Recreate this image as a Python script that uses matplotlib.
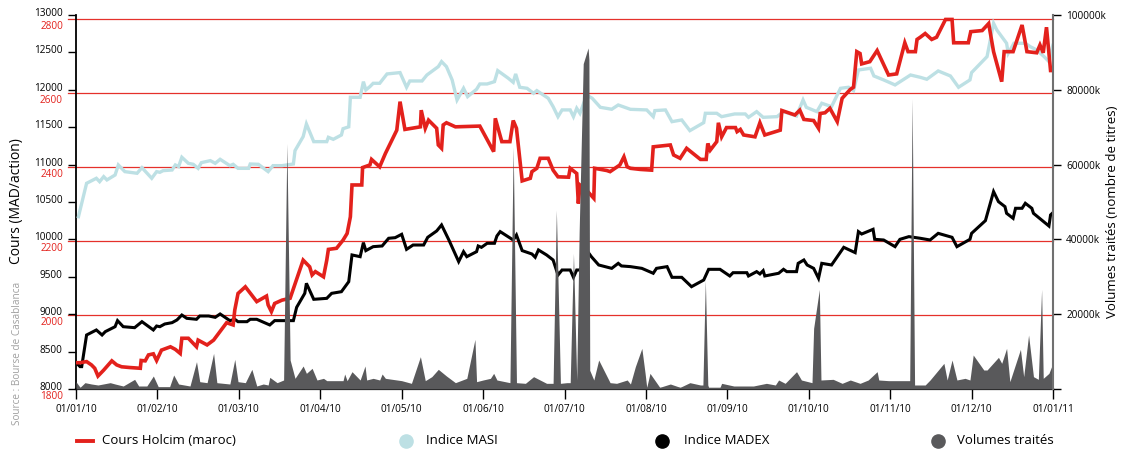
import matplotlib
matplotlib.use("Agg")
import matplotlib.pyplot as plt
import matplotlib.transforms as mtransforms
from matplotlib.lines import Line2D
from matplotlib import font_manager

installed = {f.name for f in font_manager.fontManager.ttflist}
FONT = "Open Sans" if "Open Sans" in installed else "DejaVu Sans"
plt.rcParams["font.family"] = [FONT, "DejaVu Sans"]

# x positions are in months since 01/01/10 (the months are drawn evenly spaced)
month_labels = ["01/01/10", "01/02/10", "01/03/10", "01/04/10", "01/05/10", "01/06/10",
                "01/07/10", "01/08/10", "01/09/10", "01/10/10", "01/11/10", "01/12/10",
                "01/01/11"]

index_ticks = [8000, 8500, 9000, 9500, 10000, 10500, 11000, 11500, 12000, 12500, 13000]
price_ticks = [1800, 2000, 2200, 2400, 2600, 2800]
volume_ticks = [0, 20000, 40000, 60000, 80000, 100000]

masi_m = [0.03, 0.13, 0.25, 0.29, 0.34, 0.38, 0.48, 0.52, 0.60, 0.75, 0.81, 0.93, 0.99, 1.03,
          1.07, 1.18, 1.22, 1.26, 1.30, 1.38, 1.44, 1.50, 1.54, 1.65, 1.71, 1.77, 1.89, 1.93,
          1.99, 2.12, 2.14, 2.24, 2.36, 2.42, 2.53, 2.67, 2.69, 2.79, 2.83, 2.92, 3.08, 3.10,
          3.16, 3.26, 3.28, 3.35, 3.37, 3.49, 3.53, 3.56, 3.61, 3.65, 3.73, 3.82, 3.98, 4.06,
          4.10, 4.25, 4.31, 4.45, 4.49, 4.55, 4.62, 4.68, 4.76, 4.81, 4.92, 4.96, 5.05, 5.14,
          5.18, 5.31, 5.37, 5.40, 5.45, 5.54, 5.62, 5.66, 5.80, 5.86, 5.92, 5.97, 6.07, 6.11,
          6.15, 6.19, 6.25, 6.27, 6.34, 6.44, 6.58, 6.66, 6.81, 7.01, 7.09, 7.11, 7.24, 7.32,
          7.44, 7.54, 7.71, 7.73, 7.87, 7.93, 8.03, 8.09, 8.22, 8.26, 8.36, 8.44, 8.61, 8.69,
          8.85, 8.93, 8.97, 9.10, 9.16, 9.28, 9.39, 9.49, 9.55, 9.61, 9.76, 9.80, 9.92, 10.06,
          10.25, 10.37, 10.45, 10.59, 10.74, 10.84, 10.98, 11.00, 11.19, 11.27, 11.31, 11.43,
          11.45, 11.52, 11.66, 11.72, 11.80, 11.89, 11.95, 11.99, 12.0]
masi_v = [10304, 10750, 10817, 10772, 10839, 10795, 10861, 10995, 10906, 10884, 10959, 10817,
          10906, 10897, 10919, 10928, 10995, 10973, 11098, 11017, 11004, 10950, 11026, 11053,
          11017, 11071, 10986, 11004, 10950, 10950, 11008, 11004, 10906, 10986, 10986, 11008,
          11187, 11374, 11543, 11307, 11307, 11365, 11338, 11396, 11480, 11505, 11900, 11900,
          12109, 11998, 12043, 12087, 12087, 12212, 12230, 12034, 12118, 12118, 12198, 12310,
          12377, 12310, 12132, 11864, 12020, 11909, 12007, 12078, 12078, 12109, 12256, 12154,
          12100, 12212, 12034, 12020, 11953, 11989, 11887, 11775, 11641, 11731, 11731, 11641,
          11753, 11686, 11864, 11931, 11887, 11766, 11740, 11797, 11739, 11731, 11641, 11722,
          11731, 11574, 11597, 11454, 11561, 11686, 11686, 11641, 11664, 11677, 11677, 11632,
          11708, 11632, 11641, 11708, 11650, 11864, 11766, 11708, 11820, 11775, 12020, 12034,
          11989, 12265, 12288, 12185, 12132, 12065, 12198, 12167, 12141, 12252, 12185, 12034,
          12132, 12230, 12444, 12889, 12800, 12622, 12488, 12622, 12622, 12577, 12533, 12444,
          12377, 12555, 12530]

madex_m = [0.01, 0.05, 0.07, 0.13, 0.25, 0.32, 0.36, 0.48, 0.51, 0.58, 0.72, 0.81, 0.95, 0.99,
           1.03, 1.09, 1.18, 1.24, 1.30, 1.36, 1.48, 1.52, 1.63, 1.71, 1.77, 1.89, 1.95, 1.99,
           2.10, 2.14, 2.22, 2.38, 2.44, 2.53, 2.67, 2.71, 2.81, 2.83, 2.92, 3.08, 3.14, 3.26,
           3.35, 3.39, 3.49, 3.53, 3.56, 3.65, 3.76, 3.84, 3.92, 4.00, 4.06, 4.14, 4.27, 4.32,
           4.43, 4.49, 4.58, 4.70, 4.76, 4.80, 4.92, 4.94, 4.98, 5.05, 5.14, 5.17, 5.21, 5.37,
           5.41, 5.48, 5.60, 5.64, 5.68, 5.78, 5.86, 5.92, 5.97, 6.07, 6.11, 6.15, 6.19, 6.30,
           6.33, 6.42, 6.58, 6.66, 6.70, 6.81, 6.95, 7.09, 7.13, 7.26, 7.32, 7.44, 7.56, 7.71,
           7.77, 7.91, 8.03, 8.07, 8.24, 8.26, 8.36, 8.40, 8.44, 8.46, 8.63, 8.69, 8.73, 8.85,
           8.87, 8.94, 8.98, 9.06, 9.12, 9.16, 9.28, 9.43, 9.57, 9.61, 9.65, 9.79, 9.81, 9.92,
           10.06, 10.12, 10.23, 10.37, 10.49, 10.59, 10.76, 10.82, 10.98, 11.00, 11.17, 11.27,
           11.33, 11.41, 11.43, 11.51, 11.54, 11.62, 11.66, 11.74, 11.76, 11.86, 11.95, 11.97,
           12.0]
madex_v = [8343, 8299, 8299, 8722, 8789, 8722, 8767, 8833, 8914, 8833, 8820, 8900, 8789, 8842,
           8833, 8869, 8887, 8923, 8989, 8945, 8932, 8976, 8976, 8958, 9003, 8914, 8932, 8900,
           8900, 8932, 8932, 8856, 8914, 8914, 8914, 9092, 9279, 9413, 9199, 9212, 9279, 9301,
           9435, 9792, 9769, 9957, 9850, 9903, 9912, 10015, 10023, 10068, 9867, 9925, 9925,
           10028, 10113, 10193, 9992, 9703, 9836, 9769, 9836, 9912, 9894, 9948, 9948, 10046,
           10104, 9992, 10059, 9850, 9805, 9761, 9859, 9792, 9725, 9524, 9591, 9591, 9493,
           9591, 9591, 9814, 9769, 9658, 9613, 9680, 9645, 9636, 9613, 9547, 9613, 9636, 9493,
           9493, 9368, 9457, 9600, 9600, 9511, 9555, 9555, 9511, 9569, 9538, 9582, 9511, 9547,
           9600, 9569, 9569, 9680, 9725, 9658, 9613, 9480, 9680, 9658, 9894, 9823, 10104,
           10072, 10135, 10001, 9992, 9903, 10001, 10037, 10015, 9992, 10081, 10028, 9903,
           10001, 10081, 10251, 10639, 10505, 10438, 10349, 10282, 10416, 10416, 10483, 10416,
           10349, 10260, 10179, 10327, 10358]

price_m = [0.00, 0.05, 0.13, 0.19, 0.23, 0.27, 0.34, 0.44, 0.50, 0.56, 0.66, 0.79, 0.80, 0.85,
           0.89, 0.95, 0.99, 1.05, 1.16, 1.22, 1.28, 1.30, 1.38, 1.48, 1.50, 1.61, 1.69, 1.85,
           1.93, 1.95, 1.99, 2.08, 2.22, 2.34, 2.36, 2.40, 2.44, 2.53, 2.63, 2.79, 2.87, 2.90,
           2.94, 3.04, 3.08, 3.10, 3.20, 3.28, 3.33, 3.35, 3.37, 3.39, 3.51, 3.52, 3.61, 3.63,
           3.73, 3.80, 3.94, 3.98, 4.04, 4.23, 4.24, 4.29, 4.33, 4.43, 4.45, 4.49, 4.51, 4.55,
           4.66, 4.96, 5.13, 5.15, 5.23, 5.33, 5.37, 5.41, 5.48, 5.58, 5.60, 5.66, 5.70, 5.80,
           5.86, 5.92, 6.05, 6.07, 6.15, 6.17, 6.19, 6.27, 6.36, 6.37, 6.52, 6.56, 6.62, 6.68,
           6.73, 6.77, 6.81, 6.93, 7.07, 7.09, 7.30, 7.34, 7.42, 7.50, 7.67, 7.74, 7.76, 7.79,
           7.87, 7.89, 7.93, 7.99, 8.10, 8.12, 8.16, 8.20, 8.34, 8.40, 8.46, 8.65, 8.67, 8.83,
           8.89, 8.94, 9.06, 9.12, 9.14, 9.20, 9.26, 9.35, 9.41, 9.51, 9.55, 9.59, 9.63, 9.65,
           9.75, 9.84, 9.98, 10.08, 10.18, 10.22, 10.31, 10.33, 10.37, 10.43, 10.51, 10.57,
           10.68, 10.76, 10.78, 10.96, 10.99, 11.13, 11.21, 11.27, 11.37, 11.40, 11.51, 11.62,
           11.68, 11.80, 11.84, 11.88, 11.92, 11.97, 12.0]
price_v = [1871, 1871, 1874, 1865, 1856, 1835, 1851, 1876, 1865, 1860, 1858, 1856, 1877, 1876,
           1892, 1895, 1877, 1905, 1914, 1907, 1896, 1937, 1937, 1914, 1932, 1919, 1932, 1979,
           1973, 2013, 2058, 2076, 2036, 2051, 2027, 2009, 2031, 2040, 2045, 2148, 2130, 2108,
           2117, 2103, 2148, 2177, 2180, 2202, 2220, 2243, 2265, 2351, 2351, 2398, 2405, 2420,
           2400, 2436, 2499, 2576, 2501, 2508, 2553, 2504, 2526, 2504, 2459, 2450, 2513, 2519,
           2508, 2510, 2441, 2531, 2468, 2468, 2525, 2504, 2362, 2369, 2387, 2396, 2423, 2423,
           2391, 2373, 2372, 2396, 2382, 2301, 2351, 2337, 2315, 2396, 2390, 2387, 2396, 2405,
           2427, 2400, 2396, 2393, 2391, 2454, 2459, 2432, 2423, 2450, 2420, 2420, 2463, 2445,
           2468, 2519, 2481, 2506, 2506, 2495, 2501, 2486, 2481, 2519, 2486, 2499, 2552, 2540,
           2553, 2528, 2525, 2504, 2544, 2546, 2558, 2522, 2585, 2609, 2615, 2711, 2706, 2678,
           2684, 2714, 2648, 2651, 2735, 2711, 2711, 2744, 2750, 2760, 2744, 2750, 2798, 2798,
           2735, 2735, 2765, 2768, 2787, 2711, 2630, 2711, 2711, 2783, 2711, 2708, 2729, 2708,
           2777, 2660, 2660]

# volumes in thousands of shares
volume_m = [0.00, 0.05, 0.11, 0.19, 0.27, 0.42, 0.48, 0.58, 0.72, 0.77, 0.87, 0.95, 1.01, 1.15,
            1.20, 1.26, 1.40, 1.48, 1.52, 1.61, 1.69, 1.73, 1.89, 1.95, 1.99, 2.08, 2.16, 2.22,
            2.30, 2.36, 2.38, 2.47, 2.55, 2.59, 2.63, 2.69, 2.79, 2.83, 2.90, 2.96, 3.04, 3.08,
            3.28, 3.30, 3.33, 3.39, 3.49, 3.55, 3.57, 3.65, 3.73, 3.76, 3.80, 4.00, 4.12, 4.23,
            4.29, 4.37, 4.45, 4.55, 4.66, 4.80, 4.90, 4.92, 5.00, 5.09, 5.13, 5.17, 5.33, 5.37,
            5.41, 5.52, 5.62, 5.78, 5.86, 5.90, 5.95, 6.03, 6.07, 6.11, 6.15, 6.18, 6.23, 6.29,
            6.30, 6.31, 6.36, 6.42, 6.56, 6.64, 6.77, 6.81, 6.87, 6.95, 6.99, 7.01, 7.05, 7.17,
            7.30, 7.42, 7.54, 7.67, 7.70, 7.73, 7.76, 7.77, 7.91, 7.93, 8.08, 8.32, 8.48, 8.59,
            8.63, 8.71, 8.85, 8.91, 9.04, 9.06, 9.13, 9.15, 9.30, 9.41, 9.51, 9.63, 9.73, 9.84,
            9.86, 9.98, 10.10, 10.20, 10.24, 10.27, 10.30, 10.33, 10.43, 10.49, 10.66, 10.70,
            10.76, 10.82, 10.92, 10.98, 11.02, 11.15, 11.19, 11.33, 11.37, 11.43, 11.47, 11.60,
            11.64, 11.70, 11.76, 11.82, 11.86, 11.88, 11.95, 11.99, 12.0]
volume_v = [1960, 445, 1693, 1337, 1069, 1693, 1337, 802, 2584, 802, 802, 3475, 624, 624,
            3742, 1337, 802, 7306, 1960, 1693, 9534, 1693, 1337, 7930, 1960, 1693, 5257, 802,
            1337, 1069, 3119, 1693, 2406, 65667, 7752, 2851, 6148, 4188, 5524, 2406, 2851,
            2228, 2228, 4010, 2228, 4633, 2406, 6148, 2406, 2851, 2406, 4010, 2851, 2228, 1515,
            8643, 2228, 3297, 5257, 3475, 1693, 2851, 13276, 1960, 2406, 2851, 4188, 2406, 1693,
            64776, 1693, 1515, 3297, 1515, 1515, 47847, 1515, 1693, 1693, 36264, 2406, 42000,
            87000, 91200, 88000, 5000, 2406, 7752, 1693, 1515, 2406, 1337, 5970, 10870, 4188,
            445, 4188, 445, 1337, 445, 1693, 1069, 1069, 29136, 1069, 445, 445, 1515, 802, 802,
            1515, 1069, 2406, 1515, 4633, 2406, 1693, 16216, 26641, 2406, 2584, 1515, 2406,
            1515, 2406, 4633, 2406, 2228, 2228, 2228, 2228, 77695, 1069, 1069, 1069, 2406,
            6861, 2406, 7752, 2406, 2851, 2406, 9088, 5079, 5079, 8465, 6861, 10870, 1960,
            10603, 3297, 14434, 3297, 2584, 26641, 2851, 4188, 6415, 6415]

RED = "#e3211c"
GRID = "#e5312b"
BLUE = "#bde0e4"
GREY = "#59595b"

W, H = 1127, 457
fig = plt.figure(figsize=(W / 100, H / 100), dpi=100)
ax = fig.add_axes([76 / W, 68 / H, 977 / W, 374 / H])
ax_p = ax.twinx()
ax_v = ax.twinx()

ax.set_xlim(0, 12)
ax.set_ylim(8000, 13000)
ax_p.set_ylim(1800, 2810)
ax_v.set_ylim(0, 100000)

# red guide lines follow the price scale and stick out a bit left of the axis
grid_tr = mtransforms.blended_transform_factory(ax.transAxes, ax_p.transData)
for p in price_ticks[1:]:
    ax.add_artist(Line2D([-0.008, 1], [p, p], transform=grid_tr, color=GRID,
                         lw=0.9, clip_on=False, zorder=1))

ax.plot(masi_m, masi_v, color=BLUE, lw=2.4, zorder=3, solid_joinstyle="miter")
ax.plot(madex_m, madex_v, color="black", lw=2.2, zorder=4, solid_joinstyle="miter")
ax_p.plot(price_m, price_v, color=RED, lw=2.6, solid_joinstyle="miter")
ax_v.fill_between(volume_m, 0, volume_v, color=GREY, lw=0)

# spines
for s in ["top", "right"]:
    ax.spines[s].set_visible(False)
ax.spines["left"].set_linewidth(1.3)
ax.spines["bottom"].set_linewidth(1.6)
for s in ax_p.spines.values():
    s.set_visible(False)
for s in ["top", "left", "bottom"]:
    ax_v.spines[s].set_visible(False)
ax_v.spines["right"].set_color("#707070")
ax_v.spines["right"].set_linewidth(1.5)

# x axis
ax.set_xticks(range(13))
ax.set_xticklabels(month_labels)
ax.tick_params(axis="x", length=7, width=1, pad=4, labelsize=7.2, colors="black")

# left index axis
ax.set_yticks(index_ticks)
ax.tick_params(axis="y", length=6, width=1, pad=3.5, labelsize=7.2)
up = mtransforms.ScaledTranslation(0, 3 / 100, fig.dpi_scale_trans)
for t in ax.yaxis.get_major_ticks():
    t.label1.set_transform(t.label1.get_transform() + up)

# price labels in red, on the left under the index labels
ax_p.yaxis.set_ticks_position("left")
ax_p.set_yticks(price_ticks)
ax_p.tick_params(axis="y", length=0, pad=9.4, labelsize=7.2, labelcolor=RED)
down = mtransforms.ScaledTranslation(0, -6 / 100, fig.dpi_scale_trans)
for t in ax_p.yaxis.get_major_ticks():
    t.label1.set_transform(t.label1.get_transform() + down)

# right volume axis
ax_v.set_yticks(volume_ticks)
ax_v.set_yticklabels(["" if v == 0 else f"{v}k" for v in volume_ticks])
ax_v.tick_params(axis="y", length=6, width=1, pad=3.5, labelsize=7.2)

fig.text(17 / W, 1 - 201 / H, "Cours (MAD/action)", rotation=90, ha="center",
         va="center", fontsize=10)
fig.text(1112 / W, 1 - 212 / H, "Volumes traités (nombre de titres)", rotation=90,
         ha="center", va="center", fontsize=9.5)
fig.text(18 / W, 1 - 353 / H, "Source : Bourse de Casablanca", rotation=90, ha="center",
         va="center", fontsize=7.2, color="#a0a0a0")

# legend row
ly = 1 - 441 / H
fig.add_artist(Line2D([77 / W, 93 / W], [ly, ly], color=RED, lw=2.8))
fig.text(102 / W, ly, "Cours Holcim (maroc)", va="center", fontsize=9.5)
for x, c, label, tx in [(406, BLUE, "Indice MASI", 426),
                        (662, "black", "Indice MADEX", 684),
                        (938, GREY, "Volumes traités", 957)]:
    fig.add_artist(Line2D([x / W], [ly], marker="o", ms=9.5, color=c, lw=0))
    fig.text(tx / W, ly, label, va="center", fontsize=9.5)

fig.savefig("out.png", dpi=100)
